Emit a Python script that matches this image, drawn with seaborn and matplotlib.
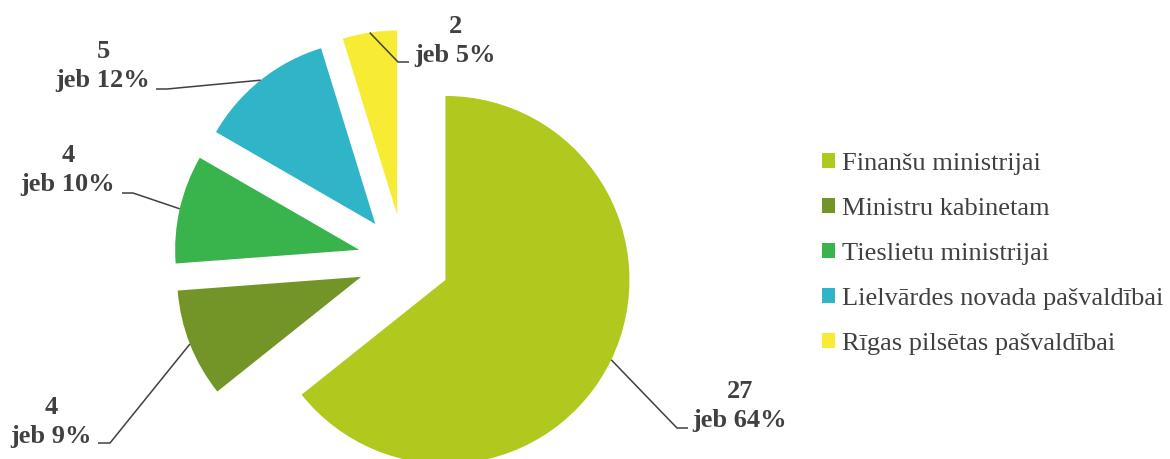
import numpy as np
import matplotlib
matplotlib.use("Agg")
import matplotlib.pyplot as plt
import seaborn as sns
from matplotlib.patches import Patch

categories = ["Finanšu ministrijai", "Ministru kabinetam", "Tieslietu ministrijai",
              "Lielvārdes novada pašvaldībai", "Rīgas pilsētas pašvaldībai"]
counts = [27, 4, 4, 5, 2]
percent_labels = ["64%", "9%", "10%", "12%", "5%"]
colors = ["#B1C81E", "#739528", "#39B34B", "#2FB5C7", "#F8EB33"]

sns.set_theme(style="white")
plt.rcParams["font.family"] = "serif"
plt.rcParams["font.serif"] = ["Liberation Serif", "Times New Roman", "DejaVu Serif"]

W, H = 1170, 459
fig = plt.figure(figsize=(W / 100, H / 100), dpi=100)
ax = fig.add_axes([0, 0, 1, 1])

center = (404, H - 260)
radius = 184
wedges, _ = ax.pie(counts, colors=colors, startangle=90, counterclock=False,
                   explode=[0.25 * radius] * len(counts), center=center, radius=radius,
                   wedgeprops=dict(linewidth=0))
ax.set_xlim(0, W)
ax.set_ylim(0, H)
ax.set_aspect("equal")
ax.axis("off")

text_color = "#404040"
label_layout = [
    (740, 406, (677, 428), (688, 428)),
    (51, 422, (110, 443), (98, 443)),
    (68, 170, (133, 193), (122, 193)),
    (103, 66, (167, 89), (156, 89)),
    (455, 41, (398, 62), (409, 62)),
]
for w, n, p, (tx, ty, elbow, end) in zip(wedges, counts, percent_labels, label_layout):
    ang = np.deg2rad((w.theta1 + w.theta2) / 2)
    cx, cy = w.center
    ax_pt = (cx + w.r * np.cos(ang), cy + w.r * np.sin(ang))
    xs = [ax_pt[0], elbow[0], end[0]]
    ys = [ax_pt[1], H - elbow[1], H - end[1]]
    ax.plot(xs, ys, color=text_color, lw=1.1, solid_capstyle="butt")
    ax.text(tx, H - ty, f"{n}\njeb {p}", ha="center", va="center", multialignment="center",
            fontsize=19, fontweight="bold", color=text_color, linespacing=1.3)

handles = [Patch(facecolor=c, edgecolor="none") for c in colors]
leg = ax.legend(handles, categories, loc="center left",
                bbox_to_anchor=(822 / W, (H - 254) / H), frameon=False,
                fontsize=19, handlelength=0.5, handleheight=0.5, handletextpad=0.25,
                labelspacing=0.87, borderpad=0, borderaxespad=0)
for t in leg.get_texts():
    t.set_color(text_color)

fig.savefig("out.png", dpi=100)
